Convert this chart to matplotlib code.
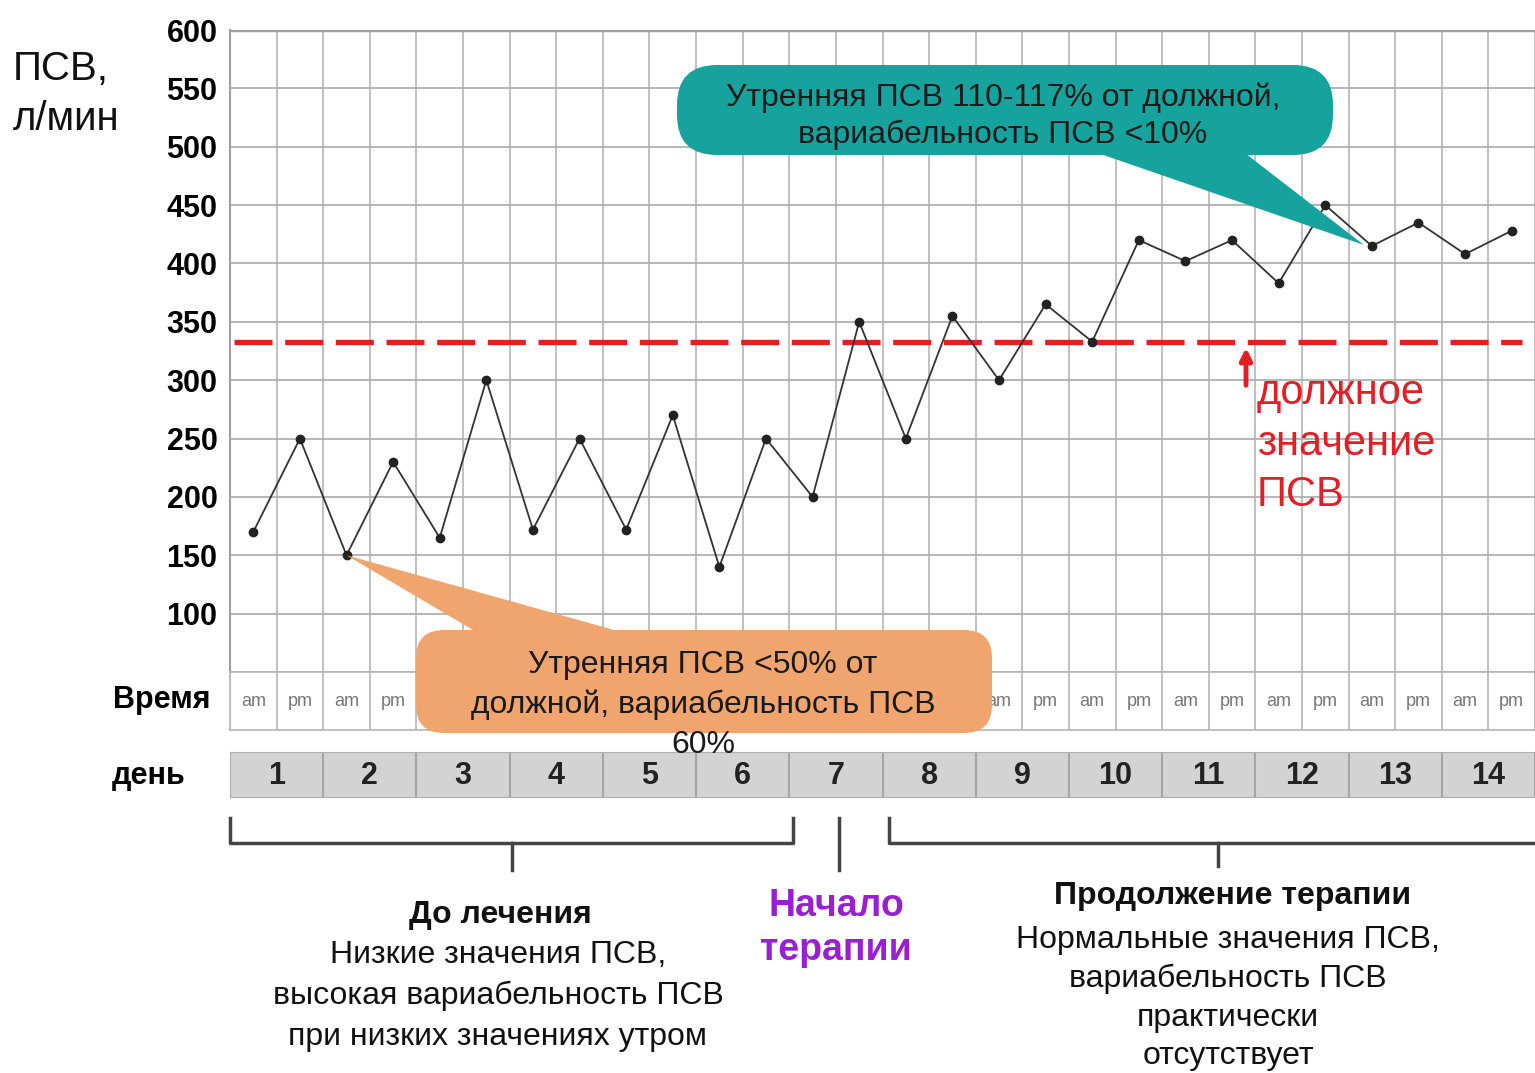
import matplotlib
matplotlib.use("Agg")
import matplotlib.pyplot as plt
from matplotlib.patches import FancyBboxPatch, Polygon

plt.rcParams['font.family'] = ['Liberation Sans', 'DejaVu Sans']
NARROW = ['Liberation Sans Narrow', 'Liberation Sans', 'DejaVu Sans']

W, H = 1535, 1073

# data
days = list(range(1, 15))
times = ['am', 'pm'] * len(days)
pef = [170, 250, 150, 230, 165, 300, 172, 250, 172, 270, 140, 250, 200, 350,
       250, 355, 300, 365, 333, 420, 402, 420, 383, 450, 415, 435, 408, 428]
target = 333
y_ticks = [50, 100, 150, 200, 250, 300, 350, 400, 450, 500, 550, 600]
before_days = (1, 6)
start_day = 7
cont_days = (8, 14)
low_idx = 2      # morning day 2
good_idx = 24    # morning day 13

# orange callout box extent (pixels)
ob_x0, ob_x1, ob_y0, ob_y1 = 416, 992, 630, 733

fig = plt.figure(figsize=(W / 100, H / 100), dpi=100)
fig.patch.set_facecolor('white')

def px(x0, y0, x1, y1):
    return [x0 / W, 1 - y1 / H, (x1 - x0) / W, (y1 - y0) / H]

# main grid chart
ax = fig.add_axes(px(230, 30, 1535, 672))
n = len(pef)
xs = [i + 0.5 for i in range(n)]
ax.set_xlim(0, n)
ax.set_ylim(y_ticks[0], y_ticks[-1])
for i in range(n + 1):
    ax.axvline(i, color='#b5b5b5', lw=1.2, zorder=1)
for v in y_ticks:
    ax.axhline(v, color='#b0b0b0', lw=1.3, zorder=1)
ax.axhline(y_ticks[-1], color='#a0a0a0', lw=2.5, zorder=1)
ax.set_yticks(y_ticks)
ax.set_yticklabels(['' if v == 50 else str(v) for v in y_ticks],
                   fontsize=22, fontweight='bold', family=NARROW)
ax.tick_params(axis='y', length=0, pad=9)
ax.set_xticks([])
for s in ['top', 'right', 'bottom']:
    ax.spines[s].set_visible(False)
ax.spines['left'].set_color('#a0a0a0')
ax.spines['left'].set_linewidth(1.5)

ax.axhline(target, xmin=0.003, xmax=0.99, color='#e31e24', lw=3.8,
           dashes=(7.2, 2.4), zorder=2)
ax.plot(xs, pef, color='#333333', lw=1.3, marker='o', ms=6,
        mfc='#222222', mec='#222222', zorder=3)

# am/pm row
ax_t = fig.add_axes(px(230, 672, 1535, 730))
ax_t.set_xlim(0, n)
ax_t.set_ylim(0, 1)
for i in range(n + 1):
    ax_t.axvline(i, color='#b5b5b5', lw=1.2)
for i, t in enumerate(times):
    cx = ax_t.transData.transform((i + 0.5, 0))[0]
    if ob_x0 < cx < ob_x1:
        continue  # hidden under the orange callout
    ax_t.text(i + 0.5, 0.5, t, ha='center', va='center', fontsize=13,
              color='#777777', family=NARROW)
ax_t.set_xticks([])
ax_t.set_yticks([])
for s in ax_t.spines.values():
    s.set_color('#b5b5b5')
    s.set_linewidth(1.2)

# day row
ax_d = fig.add_axes(px(230, 752, 1535, 797))
ax_d.set_facecolor('#d3d3d3')
ax_d.set_xlim(0, len(days))
ax_d.set_ylim(0, 1)
for i in range(len(days) + 1):
    ax_d.axvline(i, color='#a5a5a5', lw=1.5)
for i, d in enumerate(days):
    ax_d.text(i + 0.5, 0.47, str(d), ha='center', va='center', fontsize=22,
              fontweight='bold', color='#222222')
ax_d.set_xticks([])
ax_d.set_yticks([])
for s in ax_d.spines.values():
    s.set_color('#b0b0b0')

fig.text(113 / W, 1 - 700 / H, 'Время', fontsize=22, fontweight='bold',
         va='center', ha='left')
fig.text(112 / W, 1 - 776 / H, 'день', fontsize=22, fontweight='bold',
         va='center', ha='left')
fig.text(13 / W, 1 - 94 / H, 'ПСВ,\nл/мин', fontsize=29, va='center',
         ha='left', linespacing=1.41, color='#111111')

# overlay in pixel coordinates for brackets and callouts
ov = fig.add_axes([0, 0, 1, 1], zorder=10)
ov.set_xlim(0, W)
ov.set_ylim(H, 0)
ov.axis('off')
ov.patch.set_visible(False)

def to_px(x, y):
    return ov.transData.inverted().transform(ax.transData.transform((x, y)))

def cell_px(c):
    return to_px(c, target)[0]

bc = '#444444'
# before treatment bracket
x0, x1 = cell_px(2 * (before_days[0] - 1)), cell_px(2 * before_days[1]) + 4
ov.plot([x0, x0, x1, x1], [818, 843, 843, 818], color=bc, lw=2.5)
xm = (x0 + x1) / 2
ov.plot([xm, xm], [843, 870], color=bc, lw=2.5)
# start of therapy
xs7 = cell_px(2 * start_day - 1) + 3
ov.plot([xs7, xs7], [818, 870], color=bc, lw=2.5)
# continuation bracket
x0c, x1c = cell_px(2 * (cont_days[0] - 1)) + 6, cell_px(2 * cont_days[1])
ov.plot([x0c, x0c, x1c], [818, 843, 843], color=bc, lw=2.5)
xmc = (x0c + x1c) / 2 + 6
ov.plot([xmc, xmc], [843, 866], color=bc, lw=2.5)

ov.text(500, 915, 'До лечения', ha='center', va='center', fontsize=23,
        fontweight='bold', color='#111111')
ov.text(498, 996, 'Низкие значения ПСВ,\nвысокая вариабельность ПСВ\nпри низких значениях утром',
        ha='center', va='center', fontsize=23, linespacing=1.45, color='#111111')
ov.text(836, 928, 'Начало\nтерапии', ha='center', va='center', fontsize=27,
        fontweight='bold', color='#9b1fd2', linespacing=1.29)
ov.text(1233, 896, 'Продолжение терапии', ha='center', va='center',
        fontsize=23, fontweight='bold', color='#111111')
ov.text(1228, 998, 'Нормальные значения ПСВ,\nвариабельность ПСВ\nпрактически\nотсутствует',
        ha='center', va='center', fontsize=23, linespacing=1.38, color='#111111')

# target annotation
xa = 1246
ov.annotate('', xy=(xa, 345), xytext=(xa, 388),
            arrowprops=dict(arrowstyle='-|>,head_width=0.35,head_length=0.7',
                            color='#e31e24', lw=3.5))
ov.text(1257, 444, 'должное\nзначение\nПСВ', ha='left', va='center',
        fontsize=30, color='#e31e24', linespacing=1.35)

# teal callout
teal = '#17a39d'
tx, ty = to_px(xs[good_idx], pef[good_idx])
ov.add_patch(Polygon([[1060, 140], [1228, 140], [tx - 8, ty - 1]],
                     closed=True, fc=teal, ec='none'))
ov.add_patch(FancyBboxPatch((677, 65), 656, 90,
                            boxstyle='round,pad=0,rounding_size=40',
                            fc=teal, ec='none'))
ov.text(1003, 116, 'Утренняя ПСВ 110-117% от должной,\nвариабельность ПСВ <10%',
        ha='center', va='center', fontsize=23, color='#1a1a1a',
        linespacing=1.29)

# orange callout
orange = '#f1a56e'
ox, oy = to_px(xs[low_idx], pef[low_idx])
ov.add_patch(Polygon([[ox, oy], [490, 640], [650, 640]],
                     closed=True, fc=orange, ec='none'))
ov.add_patch(FancyBboxPatch((ob_x0, ob_y0), ob_x1 - ob_x0, ob_y1 - ob_y0,
                            boxstyle='round,pad=0,rounding_size=28',
                            fc=orange, ec='none'))
ov.text(703, 705, 'Утренняя ПСВ <50% от\nдолжной, вариабельность ПСВ\n60%',
        ha='center', va='center', fontsize=23, color='#1a1a1a',
        linespacing=1.41)

fig.savefig('out.png', dpi=100, facecolor='white')
